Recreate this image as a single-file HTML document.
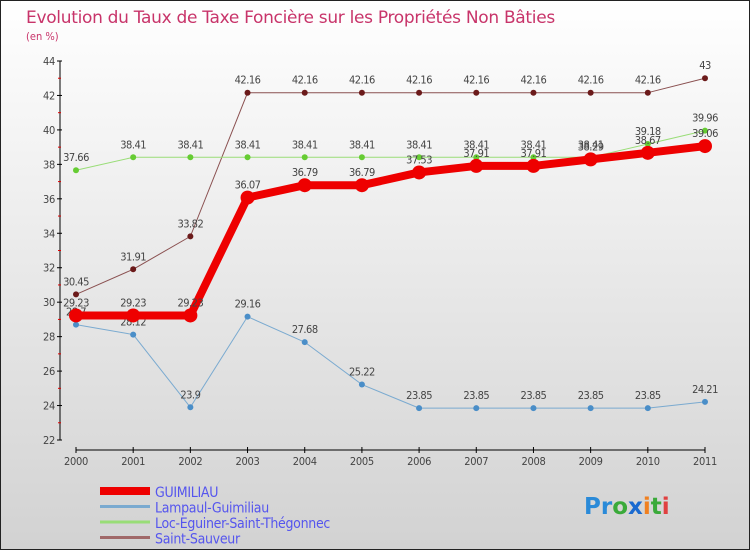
<!DOCTYPE html>
<html><head><meta charset="utf-8"><style>
html,body{margin:0;padding:0}
body{width:750px;height:550px;overflow:hidden;font-family:"Liberation Sans Narrow","DejaVu Sans Condensed","DejaVu Sans",sans-serif}
</style></head><body>
<svg width="750" height="550" viewBox="0 0 750 550" xmlns="http://www.w3.org/2000/svg">
<defs><linearGradient id="bg" x1="0" y1="0" x2="0" y2="1"><stop offset="0" stop-color="#ffffff"/><stop offset="1" stop-color="#d2d2d2"/></linearGradient></defs>
<rect x="0.5" y="0.5" width="749" height="549" fill="url(#bg)" stroke="#222"/>
<text x="26" y="23" font-size="17" fill="#c8346a" letter-spacing="-0.3" style="font-family:'DejaVu Sans ExtraLight','DejaVu Sans',sans-serif">Evolution du Taux de Taxe Foncière sur les Propriétés Non Bâties</text>
<text x="26" y="40" font-size="11" fill="#c8346a">(en %)</text>
<g id="axes"></g>
<g id="series"></g>
<g id="legend"></g>
<g font-size="23" font-weight="bold" style="font-family:'DejaVu Sans',sans-serif">
<text x="584" y="514"><tspan fill="#2a8ad8">Pr</tspan><tspan fill="#3aaa3a">o</tspan><tspan fill="#1a6ad0">x</tspan><tspan fill="#f08020">i</tspan><tspan fill="#3aaa3a">t</tspan><tspan fill="#e04040">i</tspan></text>
</g>
</svg>
<script>
const years=["2000","2001","2002","2003","2004","2005","2006","2007","2008","2009","2010","2011"];
const guimiliau=[29.23,29.23,29.23,36.07,36.79,36.79,37.53,37.91,37.91,38.29,38.67,39.06];
const lampaul=[28.7,28.12,23.9,29.16,27.68,25.22,23.85,23.85,23.85,23.85,23.85,24.21];
const locEguiner=[37.66,38.41,38.41,38.41,38.41,38.41,38.41,38.41,38.41,38.41,39.18,39.96];
const saintSauveur=[30.45,31.91,33.82,42.16,42.16,42.16,42.16,42.16,42.16,42.16,42.16,43];
const yTicks=[22,24,26,28,30,32,34,36,38,40,42,44];
const seriesNames=["GUIMILIAU","Lampaul-Guimiliau","Loc-Eguiner-Saint-Thégonnec","Saint-Sauveur"];
const NS="http://www.w3.org/2000/svg";
function xs(i){return 76+i*(705-76)/(years.length-1);}
function ys(v){return 440-(v-22)*(440-61)/22;}
function mk(tag,attrs,parent){const e=document.createElementNS(NS,tag);for(const k in attrs)e.setAttribute(k,attrs[k]);parent.appendChild(e);return e;}
const ax=document.getElementById('axes');
let l=mk('line',{x1:60,y1:61,x2:60,y2:440,stroke:'#000'},ax);


yTicks.forEach((t,i)=>{
  const y=ys(t);
  mk('line',{x1:57,y1:y,x2:62,y2:y,stroke:'#000'},ax);
  const tx=mk('text',{x:55,y:y+4,'font-size':11,'text-anchor':'end',fill:'#444','letter-spacing':'-0.3'},ax);
  tx.textContent=t;
  
  
  if(i<yTicks.length-1){const ym=ys(t+1);mk('line',{x1:58,y1:ym,x2:61,y2:ym,stroke:'#d00'},ax);}
});
l=mk('line',{x1:76,y1:450,x2:705,y2:450,stroke:'#000'},ax);


years.forEach((yr,i)=>{
  const x=xs(i);
  mk('line',{x1:x,y1:447,x2:x,y2:453,stroke:'#000'},ax);
  const tx=mk('text',{x:x,y:465,'font-size':11,'text-anchor':'middle',fill:'#444','letter-spacing':'-0.3'},ax);
  tx.textContent=yr;
  
  
});
const sg=document.getElementById('series');
const defs=[
 {d:saintSauveur,c:'#6b1a1a',w:1,r:3,lc:'#8a5050',name:'saint-sauveur'},
 {d:lampaul,c:'#4a8ec8',w:1,r:3,lc:'#7aaad0',name:'lampaul-guimiliau'},
 {d:locEguiner,c:'#66cc33',w:1,r:3,lc:'#99dd77',name:'loc-eguiner'},
 {d:guimiliau,c:'#ee0000',w:8,r:7,lc:'#ee0000',name:'guimiliau'}
];
defs.forEach(s=>{
  const g=mk('g',{},sg);
  
  
  const pl=mk('polyline',{points:s.d.map((v,i)=>xs(i)+','+ys(v)).join(' '),fill:'none',stroke:s.lc,'stroke-width':s.w,'stroke-linejoin':'round'},g);
  
  
  s.d.forEach((v,i)=>{
    const c=mk('circle',{cx:xs(i),cy:ys(v),r:s.r,fill:s.c},g);
    
    
    const t=mk('text',{x:xs(i),y:ys(v)-9,'font-size':11,'text-anchor':'middle',fill:'#444','letter-spacing':'-0.5'},g);
    t.textContent=v;
    
    
  });
});
const lg=document.getElementById('legend');
const lcols=['#ee0000','#7aaad0','#99dd77','#a06868'];
const lw=[8,3,3,3];
seriesNames.forEach((n,i)=>{
  const y=491+i*15.5;
  const g=mk('g',{},lg);
  
  
  mk('line',{x1:100,y1:y,x2:150,y2:y,stroke:lcols[i],'stroke-width':lw[i]},g);
  const t=mk('text',{x:155,y:y+6,'font-size':14,fill:'#5555ee','letter-spacing':'-0.3'},g);
  t.textContent=n;
});
</script>
</body></html>
